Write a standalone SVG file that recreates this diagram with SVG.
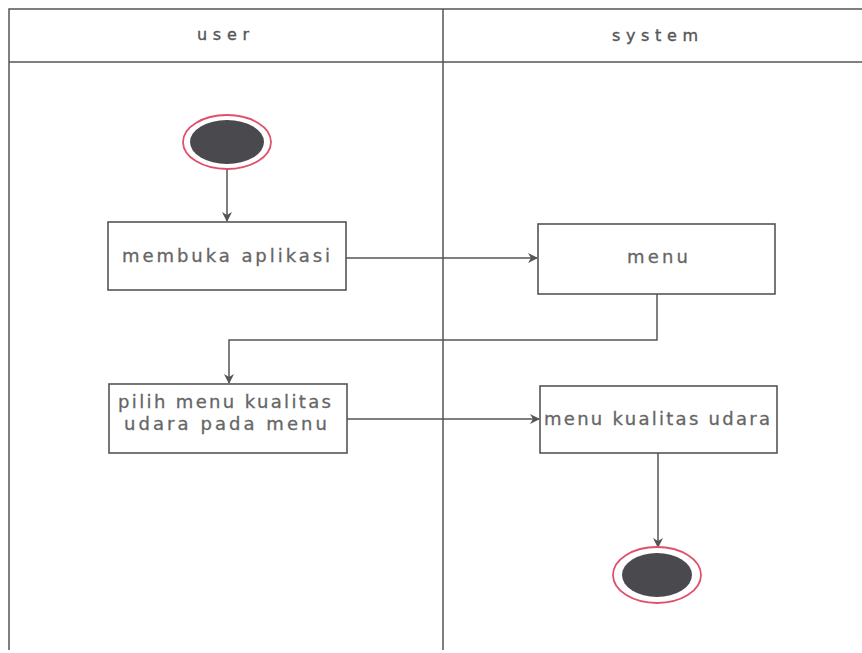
<svg xmlns="http://www.w3.org/2000/svg" width="862" height="653" viewBox="0 0 862 653">
  <defs>
    <style>
      .lane { fill: none; stroke: #555; stroke-width: 1.5; }
      .head { font-family: "DejaVu Sans", "Liberation Sans", sans-serif; font-size: 16px; fill: #555; stroke: #555; stroke-width: 0.35; }
      .box { fill: #fff; stroke: #555; stroke-width: 1.6; }
      .label { font-family: "DejaVu Sans", "Liberation Sans", sans-serif; font-size: 18px; fill: #666; stroke: #666; stroke-width: 0.3; }
      .edge { fill: none; stroke: #555; stroke-width: 1.5; }
      .ring { fill: #fff; stroke: #e0506a; stroke-width: 1.8; }
      .dot { fill: #4a4a4e; }
    </style>
    <marker id="arrow" viewBox="0 0 10 10" refX="9" refY="5" markerWidth="10" markerHeight="10" markerUnits="userSpaceOnUse" orient="auto">
      <path d="M0,0 L10,5 L0,10 L3,5 Z" fill="#555"/>
    </marker>
  </defs>
  <rect width="862" height="653" fill="#fff"/>

  <!-- swimlanes -->
  <g id="lanes">
    <path class="lane" d="M9,650 V9 H862 M9,62 H862 M443,9 V650"/>
    <text class="head" x="197" y="40" textLength="52" lengthAdjust="spacing">user</text>
    <text class="head" x="612" y="41" textLength="86" lengthAdjust="spacing">system</text>
  </g>

  <!-- connectors -->
  <g id="connectors">
    <path class="edge" d="M227,169 V221" marker-end="url(#arrow)"/>
    <path class="edge" d="M346,258 H537" marker-end="url(#arrow)"/>
    <path class="edge" d="M657,294 V340 H229 V383" marker-end="url(#arrow)"/>
    <path class="edge" d="M347,419 H539" marker-end="url(#arrow)"/>
    <path class="edge" d="M658,453 V547" marker-end="url(#arrow)"/>
  </g>

  <g id="start">
    <ellipse class="ring" cx="227" cy="142" rx="44" ry="27"/>
    <ellipse class="dot" cx="227" cy="142" rx="37" ry="22"/>
  </g>

  <g id="membuka-aplikasi">
    <rect class="box" x="108" y="222" width="238" height="68"/>
    <text class="label" x="122" y="262" textLength="208" lengthAdjust="spacing">membuka aplikasi</text>
  </g>

  <g id="menu">
    <rect class="box" x="538" y="224" width="237" height="70"/>
    <text class="label" x="627" y="263" textLength="61" lengthAdjust="spacing">menu</text>
  </g>

  <g id="pilih-menu">
    <rect class="box" x="109" y="384" width="238" height="69"/>
    <text class="label" x="118" y="408" textLength="213" lengthAdjust="spacing">pilih menu kualitas</text>
    <text class="label" x="124" y="430" textLength="203" lengthAdjust="spacing">udara pada menu</text>
  </g>

  <g id="menu-kualitas-udara">
    <rect class="box" x="540" y="386" width="237" height="67"/>
    <text class="label" x="544" y="425" textLength="226" lengthAdjust="spacing">menu kualitas udara</text>
  </g>

  <g id="end">
    <ellipse class="ring" cx="657" cy="575" rx="44" ry="28"/>
    <ellipse class="dot" cx="657" cy="575" rx="35" ry="22"/>
  </g>
</svg>
